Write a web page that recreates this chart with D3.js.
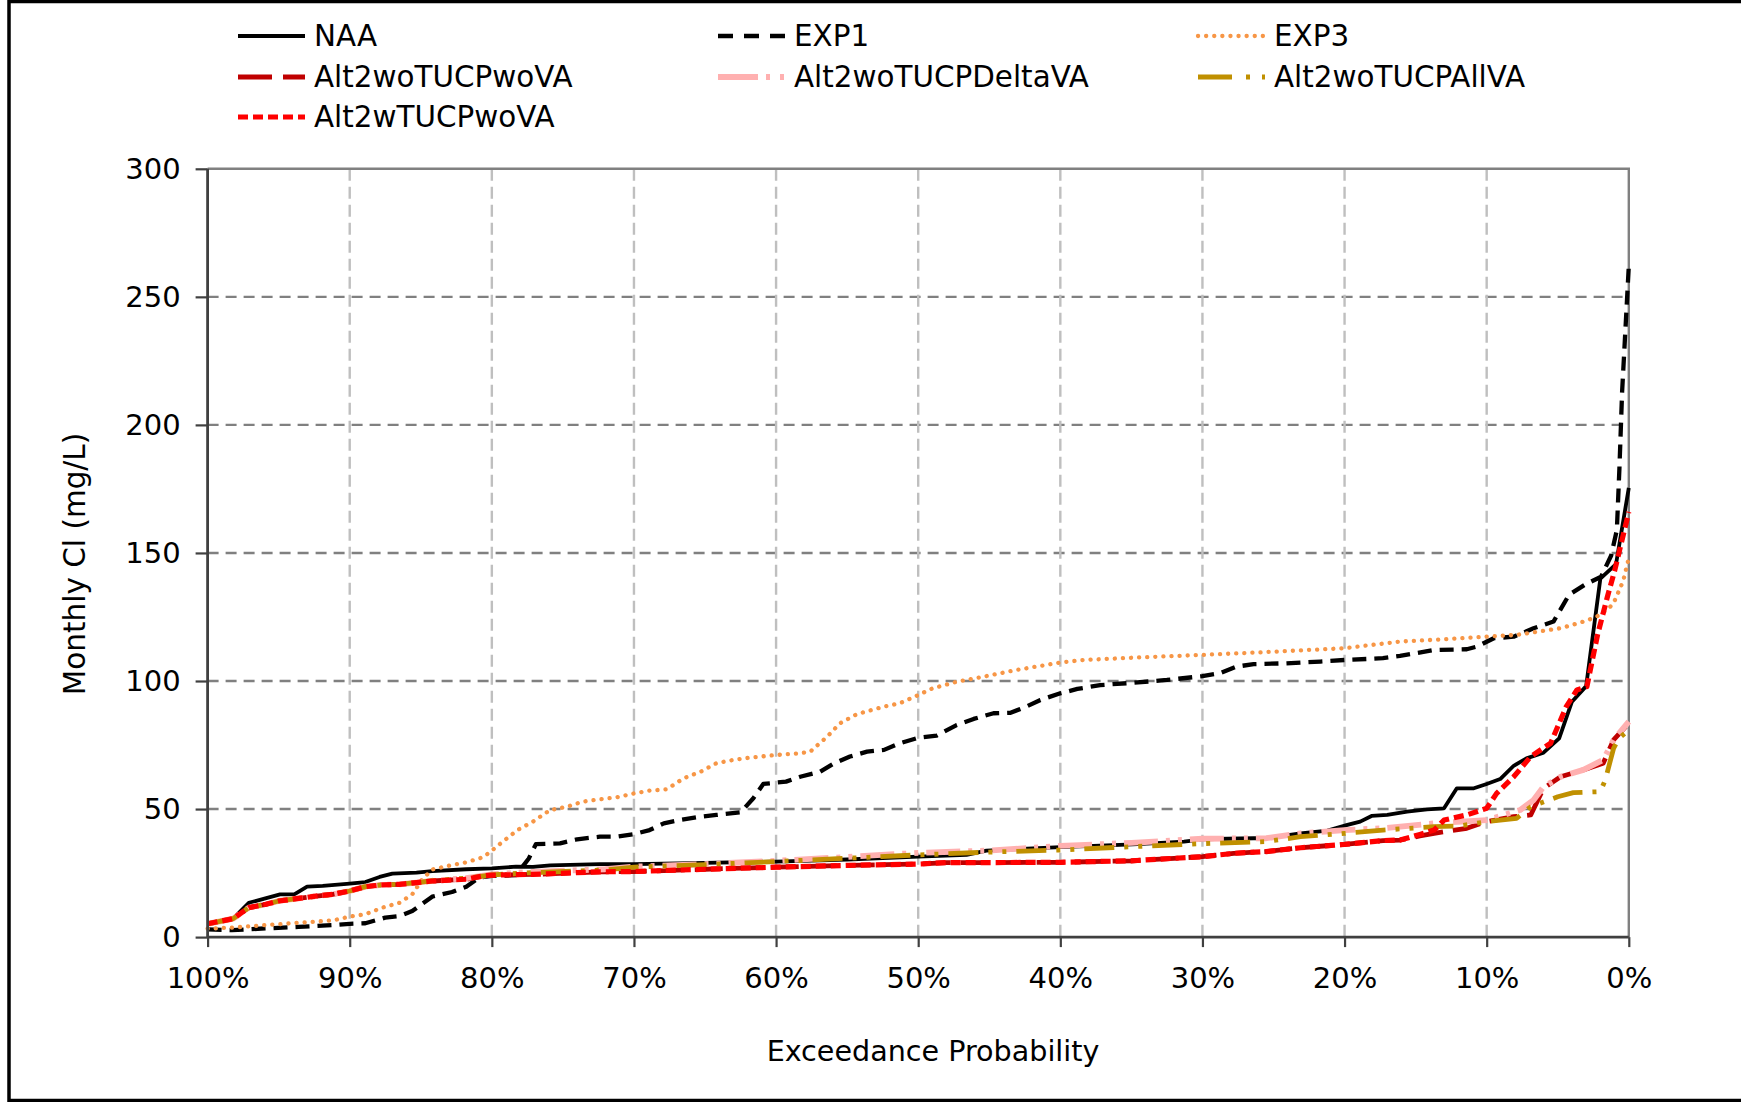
<!DOCTYPE html>
<html>
<head>
<meta charset="utf-8">
<script src="https://cdn.jsdelivr.net/npm/d3@7/dist/d3.min.js"></script>
<style>
    body { margin: 0; background: #fff; }
    svg { display: block; }
    text { font-family: "DejaVu Sans", Verdana, sans-serif; fill: #000; }
</style>
</head>
<body>
<div id="chart"></div>
<script>

// [exceedance %, monthly Cl mg/L]
const naa = [[100,5.2],[98.2,7.2],[97.1,13.4],[96,15],[94.9,16.7],[93.9,16.7],[93,19.7],[91.9,20],[90,20.9],
    [88.9,21.5],[87.9,23.5],[87,24.8],[85.3,25.2],[84.2,25.8],[81.8,26.5],[80,26.8],[78.3,27.5],[77.1,27.4],
    [75.9,28],[72.4,28.5],[70,28.5],[65,29],[60,29.5],[55,30.3],[50,31.4],[46.6,32.1],[45.2,33.8],[40,35.1],
    [34.9,36.2],[31.3,37.3],[30,38.2],[26.4,38.6],[25.5,38.6],[23.1,40.5],[21.2,41.6],[19.8,43.8],[18.9,45.1],
    [18.1,47.3],[17,47.7],[15.6,49],[14.2,49.9],[13,50.3],[12.1,58.1],[10.9,58.1],[10,59.8],[9.05,61.7],
    [8.1,66.9],[7.2,69.8],[6,72],[4.9,77.6],[4,91.9],[3,98],[2,140],[0.9,145.6],[0,175.4]];

const exp1 = [[100,3],[98.3,2.7],[95.9,3.4],[93.6,4],[91.2,4.7],[90,5.2],[88.9,5.4],[87.5,7.6],[86.5,8.2],
    [85.6,10.2],[84.2,15.8],[82.8,17.6],[81.8,19.7],[80.9,23.2],[80,23.9],[78.3,24.2],[77.4,30.7],[76.9,36.3],
    [75.2,36.6],[74,38.2],[72.4,39.2],[71.2,39.2],[70,40.2],[68.9,41.8],[67.9,44.4],[66.8,45.7],[65.3,47],
    [64.2,47.7],[62.5,48.7],[61.6,54.2],[60.9,59.8],[59.3,60.7],[58.3,62.6],[56.9,64.6],[56,67.6],[54.8,70.5],
    [53.6,72.4],[52.4,73.1],[51.3,75.7],[50,77.8],[48.7,78.7],[47.3,82.8],[46.1,85.2],[44.7,87.4],[43.5,87.6],
    [42.4,90],[41.4,92.6],[40,95.2],[38.8,96.9],[37.2,98.4],[34.9,99.3],[32.5,100.4],[30,101.9],[28.8,103],
    [27.6,105.6],[26.4,106.6],[24.1,106.9],[21.7,107.6],[20,108.2],[17.3,108.9],[16.1,109.8],[13.7,112.1],
    [11.4,112.4],[10.7,113.4],[9.5,116.7],[8.1,117.3],[6.7,120.6],[5.3,123.2],[4.2,133.7],[3,137.9],
    [1.95,140.7],[1.24,149],[0.84,159],[0.66,183],[0.47,213],[0.23,238],[0,262]];

const exp3 = [[100,3.3],[98.3,3.7],[95.9,4.7],[93.6,5.6],[91.2,6.5],[90,8],[88.9,8.9],[87.7,11.5],[86.5,13.4],
    [85.6,16.7],[84.9,22.5],[84.2,26.4],[83,27.9],[81.8,29.2],[80.6,31.2],[80,33.8],[79.4,36.5],[78.2,41.8],
    [77.1,45.1],[75.9,49.6],[74.7,50.9],[73.6,52.9],[72.4,53.8],[71.2,54.6],[70,56.1],[68.9,57.2],[67.7,57.7],
    [66.5,62],[65.3,64.6],[64.2,67.9],[63,69.2],[61.8,70.1],[60,71.1],[58.3,71.8],[57.6,72.4],[56.4,78.3],
    [55.5,83.5],[54.3,87.1],[52.4,90],[51.3,91.3],[50,94.5],[49,97.1],[47.3,99.7],[45.4,101.7],[43.1,104.3],
    [41.4,105.9],[40,107.2],[38.4,108.2],[34.9,109.1],[30,110.2],[25.5,111.3],[20,112.8],[16.1,115.4],
    [14,116],[10,117.3],[7.9,118],[4.8,120.6],[3,123.5],[2,125.8],[1.1,130],[0.4,139],[0,148]];

const alt2woVA = [[100,5.2],[98.2,7.2],[97.1,11.5],[95.9,12.8],[95,14.1],[93.6,15.1],[92.4,16],[91.2,16.7],
    [90,18],[88.9,19.7],[87.7,20.4],[86.5,20.6],[85.3,21.3],[84.2,21.9],[81.8,22.6],[80.6,23.9],[80,24.2],
    [77.1,24.5],[72.4,25.5],[70,25.6],[65,26.5],[60,27.3],[55,28],[50,28.5],[48,29.1],[45,29.1],[40,29.2],
    [35,29.8],[30,31.4],[27.8,32.7],[25.5,33.4],[23.1,34.9],[20,36.2],[17.3,37.7],[16.1,37.9],[14.7,39.5],
    [13.7,40.5],[11.4,42.5],[10,45.1],[8.1,47],[6.9,47.7],[6,58.1],[4.8,62.6],[3.2,65.3],[1.8,67.9],
    [1.07,77],[0,83.5]];

const alt2DeltaVA = [[100,5.2],[98.2,7.2],[97.1,11.5],[95.9,12.8],[95,14.1],[93.6,15.1],[92.4,16],[91.2,16.7],
    [90,18],[88.9,19.7],[87.7,20.4],[86.5,20.6],[85.3,21.3],[84.2,22],[81.8,23],[80,24.5],[77,25.5],[72,26.5],
    [70,27.5],[65,28.5],[60,29.8],[55,31.3],[50,32.9],[45,33.8],[40,35.6],[35,36.8],[30,38.4],[25.5,38.6],
    [23.1,40.5],[20,41.8],[17.3,42.5],[13.7,44.4],[10,45.7],[7.65,49.6],[6.7,53.5],[6,58.7],[4.8,62.6],
    [3.2,65.3],[1.8,69.2],[1.07,77],[0,84.1]];

const alt2AllVA = [[100,5.2],[98.2,7.2],[97.1,11.5],[95.9,12.8],[95,14.1],[93.6,15.1],[92.4,16],[91.2,16.7],
    [90,18],[88.9,19.7],[87.7,20.4],[86.5,20.6],[85.3,21.3],[84.2,22],[81.8,23],[80,24.3],[77,25.2],[72,26.2],
    [70,27.3],[65,28.3],[60,29.5],[55,30.8],[50,32.1],[45,33.2],[40,34],[35,35.3],[30,36.5],[25.5,37.3],
    [23.1,39.2],[20,40.5],[17.3,41.8],[13.7,43.1],[11.9,43.4],[10,45.1],[7.9,46.4],[6.9,50.9],[5,54.8],
    [3.9,56.4],[2,56.8],[1.66,61.3],[1.07,73.7],[0.7,77.6],[0,80.9]];

const alt2wVA = [[100,5.2],[98.2,7.2],[97.1,11.5],[95.9,12.8],[95,14.1],[93.6,15.1],[92.4,16],[91.2,16.7],
    [90,18],[88.9,19.7],[87.7,20.4],[86.5,20.6],[85.3,21.3],[84.2,21.9],[81.8,22.6],[80.6,23.9],[80,24.2],
    [77.1,24.5],[72.4,25.5],[70,25.6],[65,26.5],[60,27.3],[55,28],[50,28.5],[48,29.1],[45,29.1],[40,29.2],
    [35,29.8],[30,31.4],[27.8,32.7],[25.5,33.4],[23.1,34.9],[20,36.2],[17.3,37.7],[16.1,37.9],[14.7,40.1],
    [13.7,41.8],[13,45.7],[11.4,47.7],[10,50.3],[9.3,56.1],[8.1,62.6],[6.9,70.5],[5.5,75.7],[4.4,90],
    [3.65,96.5],[2.95,97.8],[2.2,118],[1.5,133],[1,143],[0,166]];

const seriesNames = ["NAA", "EXP1", "EXP3", "Alt2woTUCPwoVA", "Alt2woTUCPDeltaVA", "Alt2woTUCPAllVA", "Alt2wTUCPwoVA"];
const xTicks = [100, 90, 80, 70, 60, 50, 40, 30, 20, 10, 0];
const yTicks = [0, 50, 100, 150, 200, 250, 300];

class ExceedanceChart {

    constructor(opts) {
        this.element = opts.element;
        this.config = opts.config;
    }

    draw(series) {
        const c = this.config;
        this.element.innerHTML = '';

        this.svg = d3.select(this.element).append("svg")
            .attr("width", c.width)
            .attr("height", c.height);

        this.x_scale = d3.scaleLinear().domain([100, 0]).range([c.left, c.right]);
        this.y_scale = d3.scaleLinear().domain([0, 300]).range([c.bottom, c.top]);

        this.addGrid();
        this.drawSeries(series);
        this.addAxes();
        this.addLegend(series);

        // outer frame
        this.svg.append("rect")
            .attr("x", 9).attr("y", 1.5)
            .attr("width", c.width + 20).attr("height", c.height - 3)
            .attr("fill", "none")
            .attr("stroke", "#000")
            .attr("stroke-width", 3.5);
    }

    addGrid() {
        const c = this.config;
        const g = this.svg.append("g").attr("class", "grid");

        g.selectAll(".hgrid").data(yTicks.filter(d => d > 0 && d < 300)).enter()
            .append("line")
            .attr("x1", c.left).attr("x2", c.right)
            .attr("y1", d => this.y_scale(d)).attr("y2", d => this.y_scale(d))
            .attr("stroke", "#808080").attr("stroke-width", 2.4)
            .attr("stroke-dasharray", "11,7");

        g.selectAll(".vgrid").data(xTicks.filter(d => d > 0 && d < 100)).enter()
            .append("line")
            .attr("x1", d => this.x_scale(d)).attr("x2", d => this.x_scale(d))
            .attr("y1", c.top).attr("y2", c.bottom)
            .attr("stroke", "#bfbfbf").attr("stroke-width", 2.4)
            .attr("stroke-dasharray", "12,6");

        // top and right plot border
        g.append("path")
            .attr("d", "M" + c.left + "," + c.top + "H" + c.right + "V" + c.bottom)
            .attr("fill", "none")
            .attr("stroke", "#808080")
            .attr("stroke-width", 2.4);
    }

    drawSeries(series) {
        const line = d3.line()
            .x(d => this.x_scale(d[0]))
            .y(d => this.y_scale(d[1]));

        this.svg.append("g").selectAll("path").data(series).enter()
            .append("path")
            .attr("d", d => line(d.data))
            .attr("fill", "none")
            .attr("stroke", d => d.color)
            .attr("stroke-width", d => d.width)
            .attr("stroke-dasharray", d => d.dash)
            .attr("stroke-linecap", d => d.cap || "butt")
            .attr("stroke-linejoin", "round");
    }

    addAxes() {
        const c = this.config;

        this.yAxis = d3.axisLeft(this.y_scale)
            .tickValues(yTicks)
            .tickSize(12)
            .tickPadding(15)
            .tickFormat(d => d);

        this.xAxis = d3.axisBottom(this.x_scale)
            .tickValues(xTicks)
            .tickSize(10)
            .tickPadding(20)
            .tickFormat(d => d + "%");

        this.y_axis = this.svg.append("g")
            .attr("transform", "translate(" + c.left + ",0)")
            .call(this.yAxis);

        this.x_axis = this.svg.append("g")
            .attr("transform", "translate(0," + c.bottom + ")")
            .call(this.xAxis);

        [this.y_axis, this.x_axis].forEach(a => {
            a.select(".domain").attr("stroke", "#404040").attr("stroke-width", 2.8);
            a.selectAll(".tick line").attr("stroke", "#404040").attr("stroke-width", 2.2);
            a.selectAll(".tick text")
                .attr("font-size", 29)
                .attr("font-family", "DejaVu Sans, Verdana, sans-serif")
                .attr("fill", "#000");
        });
        this.x_axis.select(".domain").attr("d", "M" + c.left + ",0H" + c.right);
        this.y_axis.select(".domain").attr("d", "M0," + c.bottom + "V" + c.top);

        this.svg.append("text")
            .attr("x", 933).attr("y", 1051)
            .attr("text-anchor", "middle")
            .attr("dominant-baseline", "central")
            .attr("font-size", 28.6)
            .text("Exceedance Probability");

        this.svg.append("text")
            .attr("transform", "translate(75,564) rotate(-90)")
            .attr("text-anchor", "middle")
            .attr("dominant-baseline", "central")
            .attr("font-size", 29.5)
            .text("Monthly Cl (mg/L)");
    }

    addLegend(series) {
        const cols = [238, 718, 1198];
        const rows = [36, 77, 117];

        const item = this.svg.append("g").selectAll("g").data(series).enter()
            .append("g")
            .attr("transform", (d, i) => "translate(" + cols[i % 3] + "," + rows[Math.floor(i / 3)] + ")");

        item.append("line")
            .attr("x1", 0).attr("x2", 67)
            .attr("stroke", d => d.color)
            .attr("stroke-width", d => d.width)
            .attr("stroke-dasharray", d => d.legendDash || d.dash)
            .attr("stroke-linecap", d => d.cap || "butt");

        item.append("text")
            .attr("x", 76)
            .attr("dominant-baseline", "central")
            .attr("font-size", 29.4)
            .text(d => d.name);
    }
}

const styles = [
    { color: "#000000", width: 3.8, dash: null },
    { color: "#000000", width: 4.3, dash: "14,8", legendDash: "15,11" },
    { color: "#f79646", width: 4.3, dash: "0.1,8", cap: "round" },
    { color: "#c00000", width: 4.8, dash: "28,10", legendDash: "34,11" },
    { color: "#ffb0b0", width: 5.8, dash: "34,8,4,8,4,8", legendDash: "40,8,4,10,4,10" },
    { color: "#c09000", width: 4.8, dash: "30,10,4,10,4,10", legendDash: "34,14,4,12,4,10" },
    { color: "#ff0000", width: 5.2, dash: "10,5" }
];
const seriesData = [naa, exp1, exp3, alt2woVA, alt2DeltaVA, alt2AllVA, alt2wVA];

const series = seriesNames.map((name, i) => Object.assign({ name: name, data: seriesData[i] }, styles[i]));

const chart = new ExceedanceChart({
    element: document.getElementById("chart"),
    config: { width: 1741, height: 1102, left: 207.6, right: 1628.8, top: 168.8, bottom: 937.1 }
});
chart.draw(series);
</script>
</body>
</html>
